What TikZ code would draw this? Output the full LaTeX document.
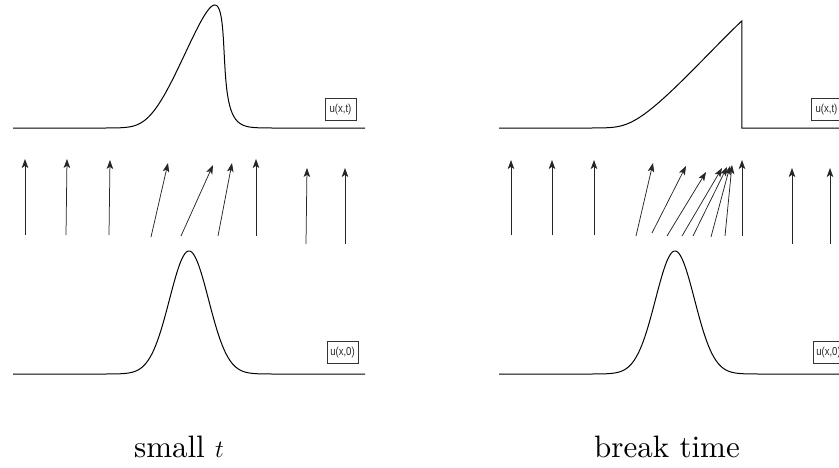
\documentclass[tikz,border=0pt]{standalone}
\usepackage{fontspec}
\newfontfamily\boxfont{Liberation Sans}
\newfontfamily\capfont{lmroman10-regular.otf}
\usetikzlibrary{arrows.meta}
\begin{document}
\begin{tikzpicture}[x=1pt,y=-1pt,
  declare function={g(\s)=123*exp(-0.5*((\s-189)/19.5)^2);},
  curve/.style={line width=1pt, black},
  charline/.style={line width=0.75pt, black!85, -{Stealth[length=9pt,width=6.5pt,inset=2.2pt]}},
  lbl/.style={draw, line width=0.7pt, black!80, inner xsep=2.5pt, inner ysep=0pt, text=black!85,
    font=\boxfont\fontsize{11.5}{12}\selectfont, minimum height=22pt, minimum width=31pt},
  captext/.style={font=\capfont\fontsize{31}{36}\selectfont, anchor=base}
]
\useasboundingbox (0,0) rectangle (839,467);

% ---------- left panel: small t ----------
\draw[curve] (13,128) -- (100,128)
  -- plot[domain=100:290, samples=200, variable=\s] ({\s+0.21*g(\s)}, {128-g(\s)})
  -- (365,128);
\draw[curve] (13,374) -- (100,374)
  -- plot[domain=100:278, samples=200, variable=\s] ({\s}, {374-g(\s)})
  -- (365,374);
\node[lbl] (lt) at (340.5,109.5) {\scalebox{0.83}[1]{u(x,t)}};
\node[lbl] (l0) at (342.5,352.5) {\scalebox{0.83}[1]{u(x,0)}};

\foreach \bx/\by/\tx/\ty [count=\i] in {25/235/25/159, 66/235/67/159, 109/235/110/160,
   151/237/168/163, 181/236/213/165, 218/236/232/163, 256/236/256/159,
   306/244/307/168, 345/244/345/168}{
  \coordinate (lb\i) at (\bx,\by);
  \coordinate (le\i) at (\tx,\ty);
  \draw[charline] (lb\i) -- (le\i);
}
\node[captext] (capl) at (179,457) {small $t$};

% ---------- right panel: break time ----------
\draw[curve] (499,128) -- (586,128)
  -- plot[domain=100:178.7, samples=200, variable=\s] ({\s+486+0.72*g(\s)}, {128-g(\s)})
  |- (839,128);
\draw[curve] (499,374) -- (586,374)
  -- plot[domain=100:278, samples=200, variable=\s] ({\s+486}, {374-g(\s)})
  -- (839,374);
\node[lbl] (rt) at (826.5,109.5) {\scalebox{0.83}[1]{u(x,t)}};
\node[lbl] (r0) at (828.5,352.5) {\scalebox{0.83}[1]{u(x,0)}};

\foreach \bx/\by/\tx/\ty [count=\i] in {511/235/511/160, 552/235/552/160, 594/235/594/160,
   636/236/653/163, 652/233/686/166, 667/236/706/172, 682/236/722/168,
   693/236/727/167, 711/237/730/166, 725/236/732/165, 742/236/742/160,
   792/244/792/168, 830/244/830/168}{
  \coordinate (rb\i) at (\bx,\by);
  \coordinate (re\i) at (\tx,\ty);
  \draw[charline] (rb\i) -- (re\i);
}
\node[captext] (capr) at (667,457) {break time};
\end{tikzpicture}
\end{document}
